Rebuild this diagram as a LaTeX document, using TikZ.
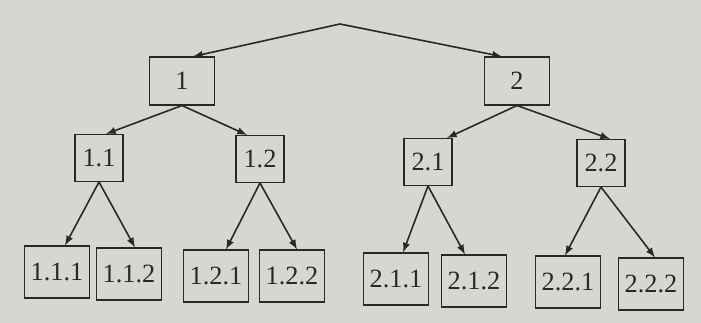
\documentclass[tikz,border=0pt]{standalone}
\usepackage{fontspec}
\setmainfont{Liberation Serif}
\definecolor{paper}{RGB}{214,214,211}
\definecolor{ink}{RGB}{40,40,40}
\tikzset{
  box/.style={draw=ink, line width=0.6pt, rectangle, inner sep=0pt,
    font=\fontsize{15}{15}\selectfont, text=ink},
  lvone/.style={box, minimum width=1.3cm, minimum height=0.96cm},
  lvtwo/.style={box, minimum width=0.96cm, minimum height=0.94cm},
  leaf/.style={box, minimum width=1.3cm, minimum height=1.04cm},
  link/.style={-latex, draw=ink, line width=0.9pt}
}
\begin{document}
\begin{tikzpicture}[x=0.02cm, y=-0.02cm]
  \fill[paper] (0,0) rectangle (701,323);
  \useasboundingbox (0,0) rectangle (701,323);

  \coordinate (root) at (340,24);

  \node[lvone] (n1) at (182,81) {1};
  \node[lvone] (n2) at (517,81) {2};

  \node[lvtwo] (n11) at (99,158) {1.1};
  \node[lvtwo] (n12) at (260,159) {1.2};
  \node[lvtwo] (n21) at (428,162) {2.1};
  \node[lvtwo] (n22) at (601,163) {2.2};

  \node[leaf] (n111) at (57,272) {1.1.1};
  \node[leaf] (n112) at (129,274) {1.1.2};
  \node[leaf] (n121) at (216,276) {1.2.1};
  \node[leaf] (n122) at (292,276) {1.2.2};
  \node[leaf] (n211) at (396,279) {2.1.1};
  \node[leaf] (n212) at (474,281) {2.1.2};
  \node[leaf] (n221) at (568,282) {2.2.1};
  \node[leaf] (n222) at (651,284) {2.2.2};

  \draw[link] (root) -- ([xshift=0.22cm]n1.north);
  \draw[link] (root) -- ([xshift=-0.3cm]n2.north);

  \draw[link] (n1.south) -- ([xshift=0.14cm]n11.north);
  \draw[link] (n1.south) -- ([xshift=-0.26cm]n12.north);
  \draw[link] (n2.south) -- ([xshift=0.38cm]n21.north);
  \draw[link] (n2.south) -- ([xshift=0.18cm]n22.north);

  \draw[link] (n11.south) -- ([xshift=0.16cm]n111.north);
  \draw[link] (n11.south) -- ([xshift=0.12cm]n112.north);
  \draw[link] (n12.south) -- ([xshift=0.2cm]n121.north);
  \draw[link] (n12.south) -- ([xshift=0.1cm]n122.north);
  \draw[link] (n21.south) -- ([xshift=0.14cm]n211.north);
  \draw[link] (n21.south) -- ([xshift=-0.18cm]n212.north);
  \draw[link] (n22.south) -- ([xshift=-0.06cm]n221.north);
  \draw[link] (n22.south) -- ([xshift=0.08cm]n222.north);
\end{tikzpicture}
\end{document}
